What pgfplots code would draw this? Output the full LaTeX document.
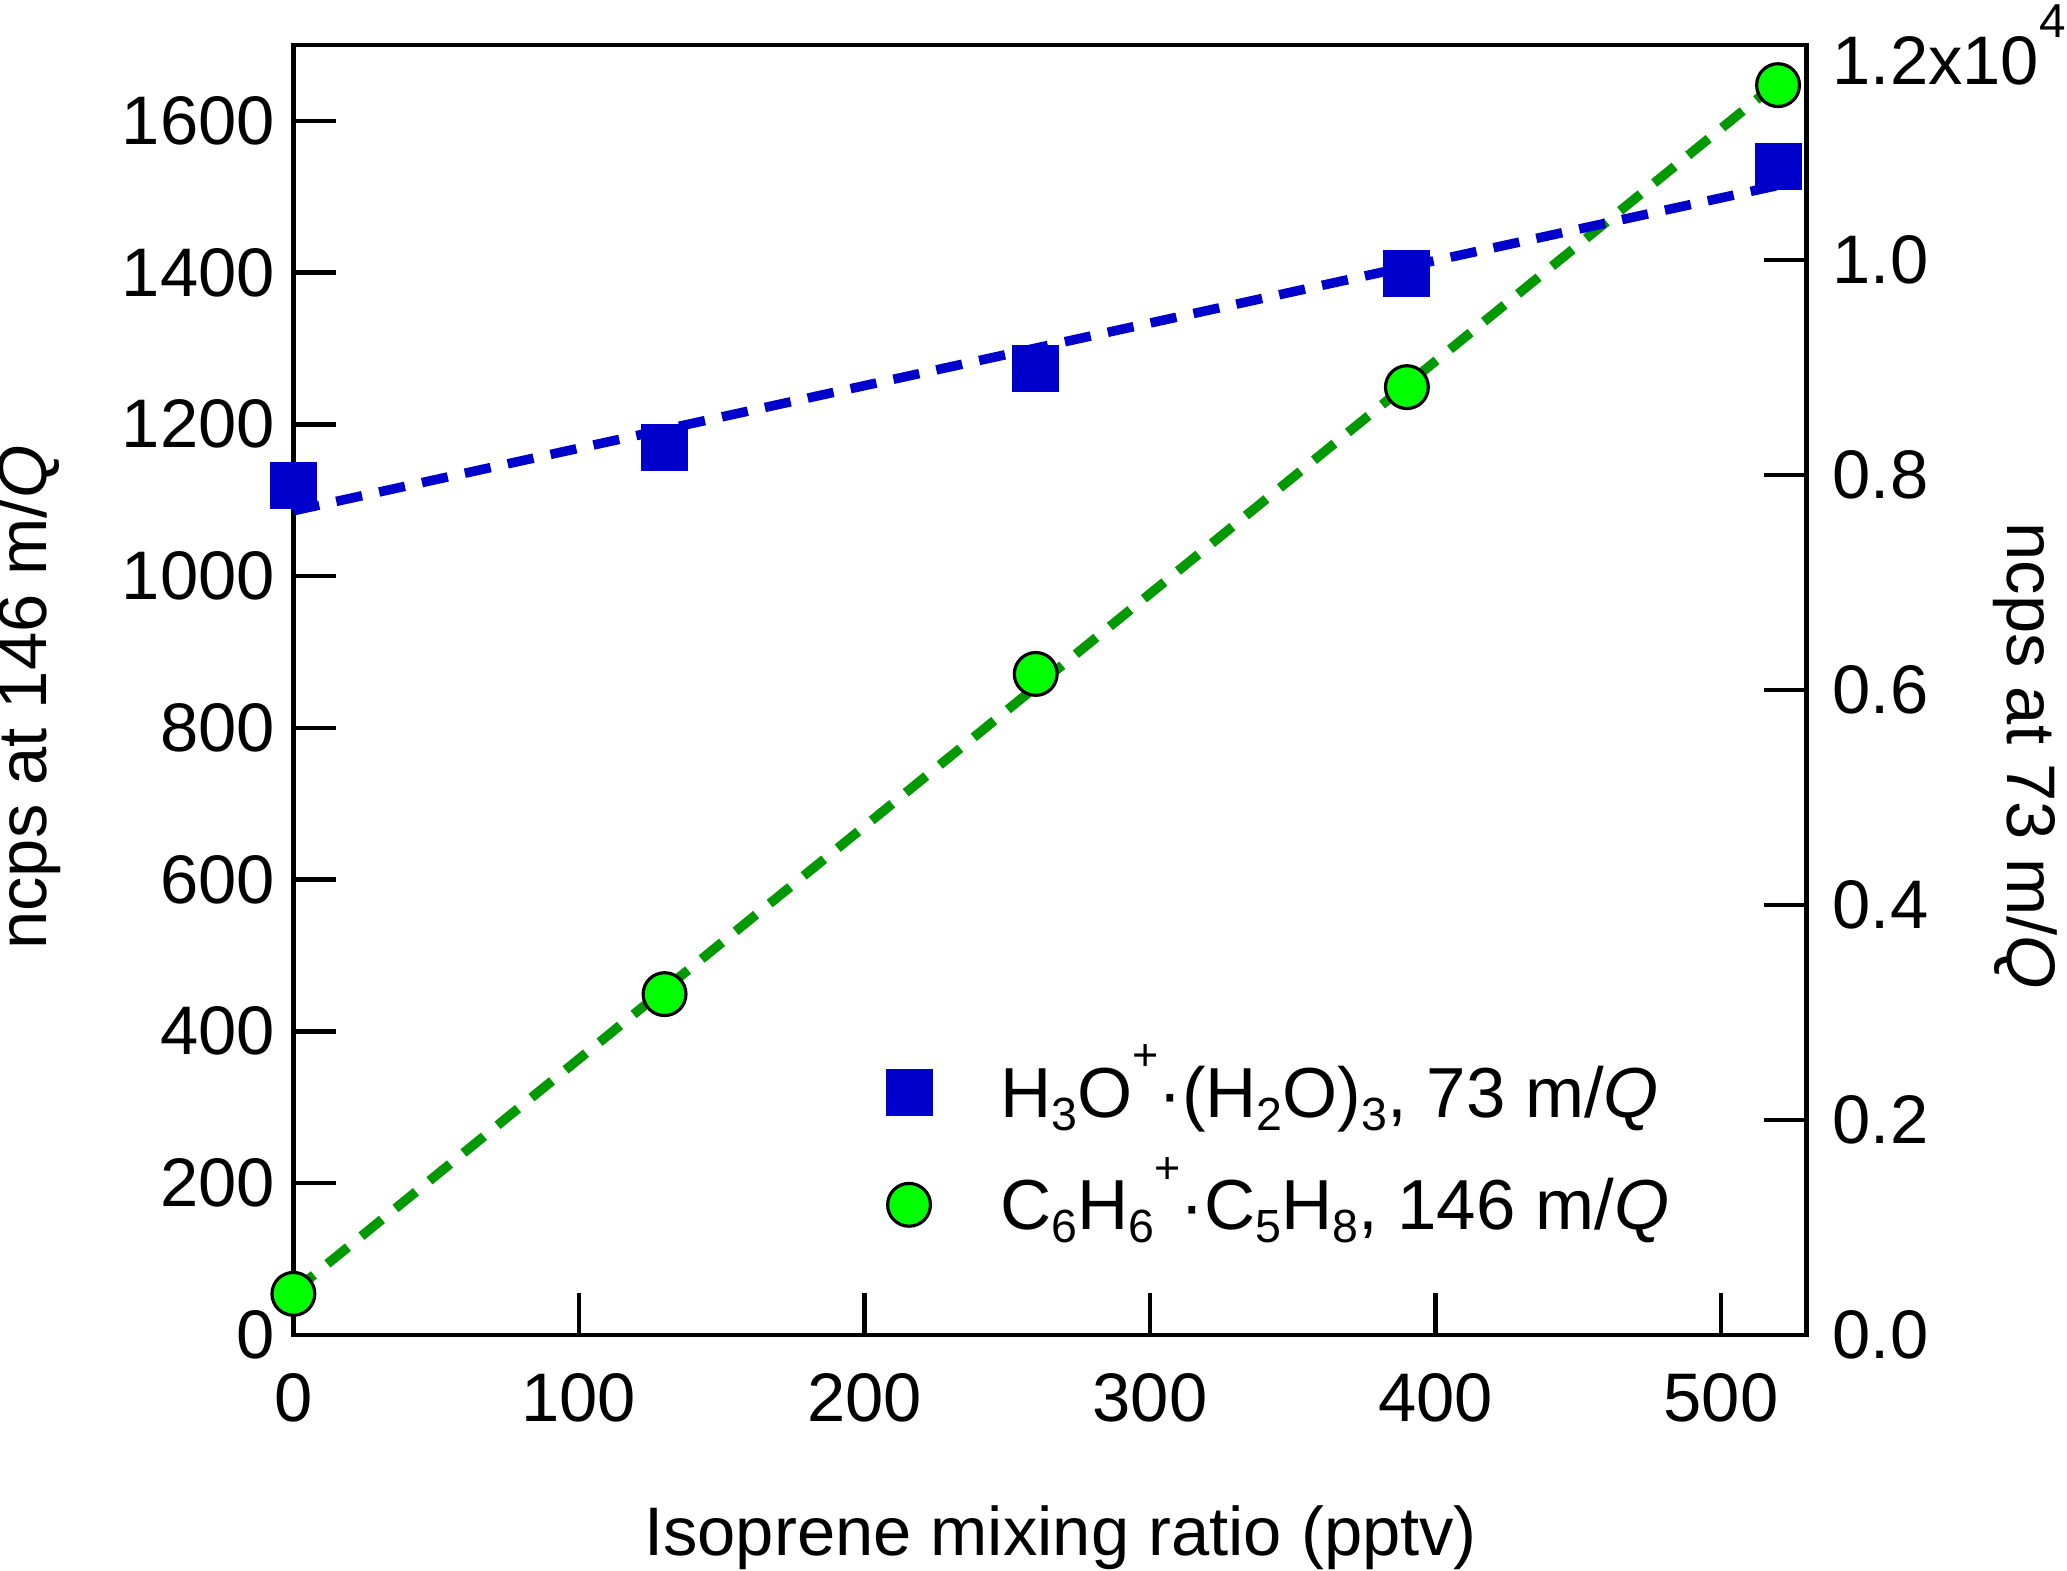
\documentclass[border=0pt]{standalone}
\usepackage{fontspec}
\setmainfont{Liberation Sans}
\usepackage{pgfplots}
\pgfplotsset{compat=1.18}
\definecolor{dblue}{RGB}{0,0,204}
\definecolor{dgreen}{RGB}{0,153,0}
\definecolor{lgreen}{RGB}{0,255,0}
\newcommand\sbs[1]{\raisebox{-2.5pt}{\fontsize{8.8}{8.8}\selectfont #1}}
\newcommand\sps[1]{\raisebox{8.8pt}{\fontsize{8.5}{8.5}\selectfont #1}}
\begin{document}
\begin{tikzpicture}
\useasboundingbox (0,0) rectangle (391pt,297pt);
\pgfplotsset{
  every axis/.append style={
    scale only axis, width=286.25pt, height=244pt,
    at={(55.5pt,44.5pt)}, anchor=south west,
    xmin=0, xmax=530,
    tick align=inside, major tick length=8pt,
    axis line style={line width=0.85pt},
    every tick/.style={line width=0.85pt, black},
    tick label style={font=\fontsize{13}{15}\selectfont},
    label style={font=\fontsize{13}{15}\selectfont},
    /pgf/number format/assume math mode=true,
    /pgf/number format/1000 sep={},
  }
}
\begin{axis}[
  ymin=0, ymax=1700,
  xtick={0,100,...,500}, ytick={0,200,...,1600},
  xtick pos=lower, ytick pos=left,
  x tick label style={yshift=-3.7pt},
  xlabel={Isoprene mixing ratio (pptv)},
  ylabel={ncps at 146 m/\textit{Q}},
  xlabel style={at={(axis description cs:0.507,-0.171)}, anchor=base},
  ylabel style={at={(axis description cs:-0.1633,0.494)}, anchor=base},
]
\addplot[only marks, mark=*, mark size=4.05pt, mark options={fill=lgreen, draw=black, line width=0.6pt}]
  coordinates {(0,54)(130,449)(260,871)(390,1249)(520,1647)};
\addplot[dgreen, line width=1.8pt, dash pattern=on 5pt off 3.3pt]
  coordinates {(0,57)(520,1651)};
\end{axis}
\begin{axis}[
  ymin=0, ymax=12000,
  axis x line=none, axis y line*=right, ytick pos=right,
  ytick={0,2000,...,12000},
  yticklabels={0.0,0.2,0.4,0.6,0.8,1.0,1.2x10\raisebox{9pt}{\fontsize{9}{9}\selectfont 4}},
  scaled y ticks=false,
  y tick label style={xshift=1.4pt},
  ylabel={ncps at 73 m/\textit{Q}},
  ylabel style={at={(axis description cs:1.1328,0.449)}, anchor=base, rotate=180},
  legend style={at={(axis description cs:0.392,0.2180)}, anchor=north west,
    draw=none, fill=none, inner sep=0pt, outer sep=0pt,
    column sep=13pt, row sep=4.3pt, font=\fontsize{13.4}{15}\selectfont,
    nodes={inner sep=0pt, text height=12pt, text depth=5pt}},
  legend cell align=left,
  legend image code/.code={\draw[#1] plot coordinates {(0pt,1.2pt)};},
]
\addplot[only marks, mark=square*, mark size=4.25pt, color=dblue]
  coordinates {(0,7899)(130,8256)(260,8993)(390,9877)(520,10872)};
\addlegendentry{H\sbs{3}O\sps{+}·(H\sbs{2}O)\sbs{3}, 73 m/\textit{Q}}
\addlegendimage{only marks, mark=*, mark size=4.05pt, mark options={fill=lgreen, draw=black, line width=0.6pt}}
\addlegendentry{C\sbs{6}H\sbs{6}\sps{+}·C\sbs{5}H\sbs{8}, 146 m/\textit{Q}}
\addplot[dblue, line width=1.8pt, dash pattern=on 5pt off 3.3pt, forget plot]
  coordinates {(0,7666)(520,10693)};
\end{axis}
\end{tikzpicture}
\end{document}
